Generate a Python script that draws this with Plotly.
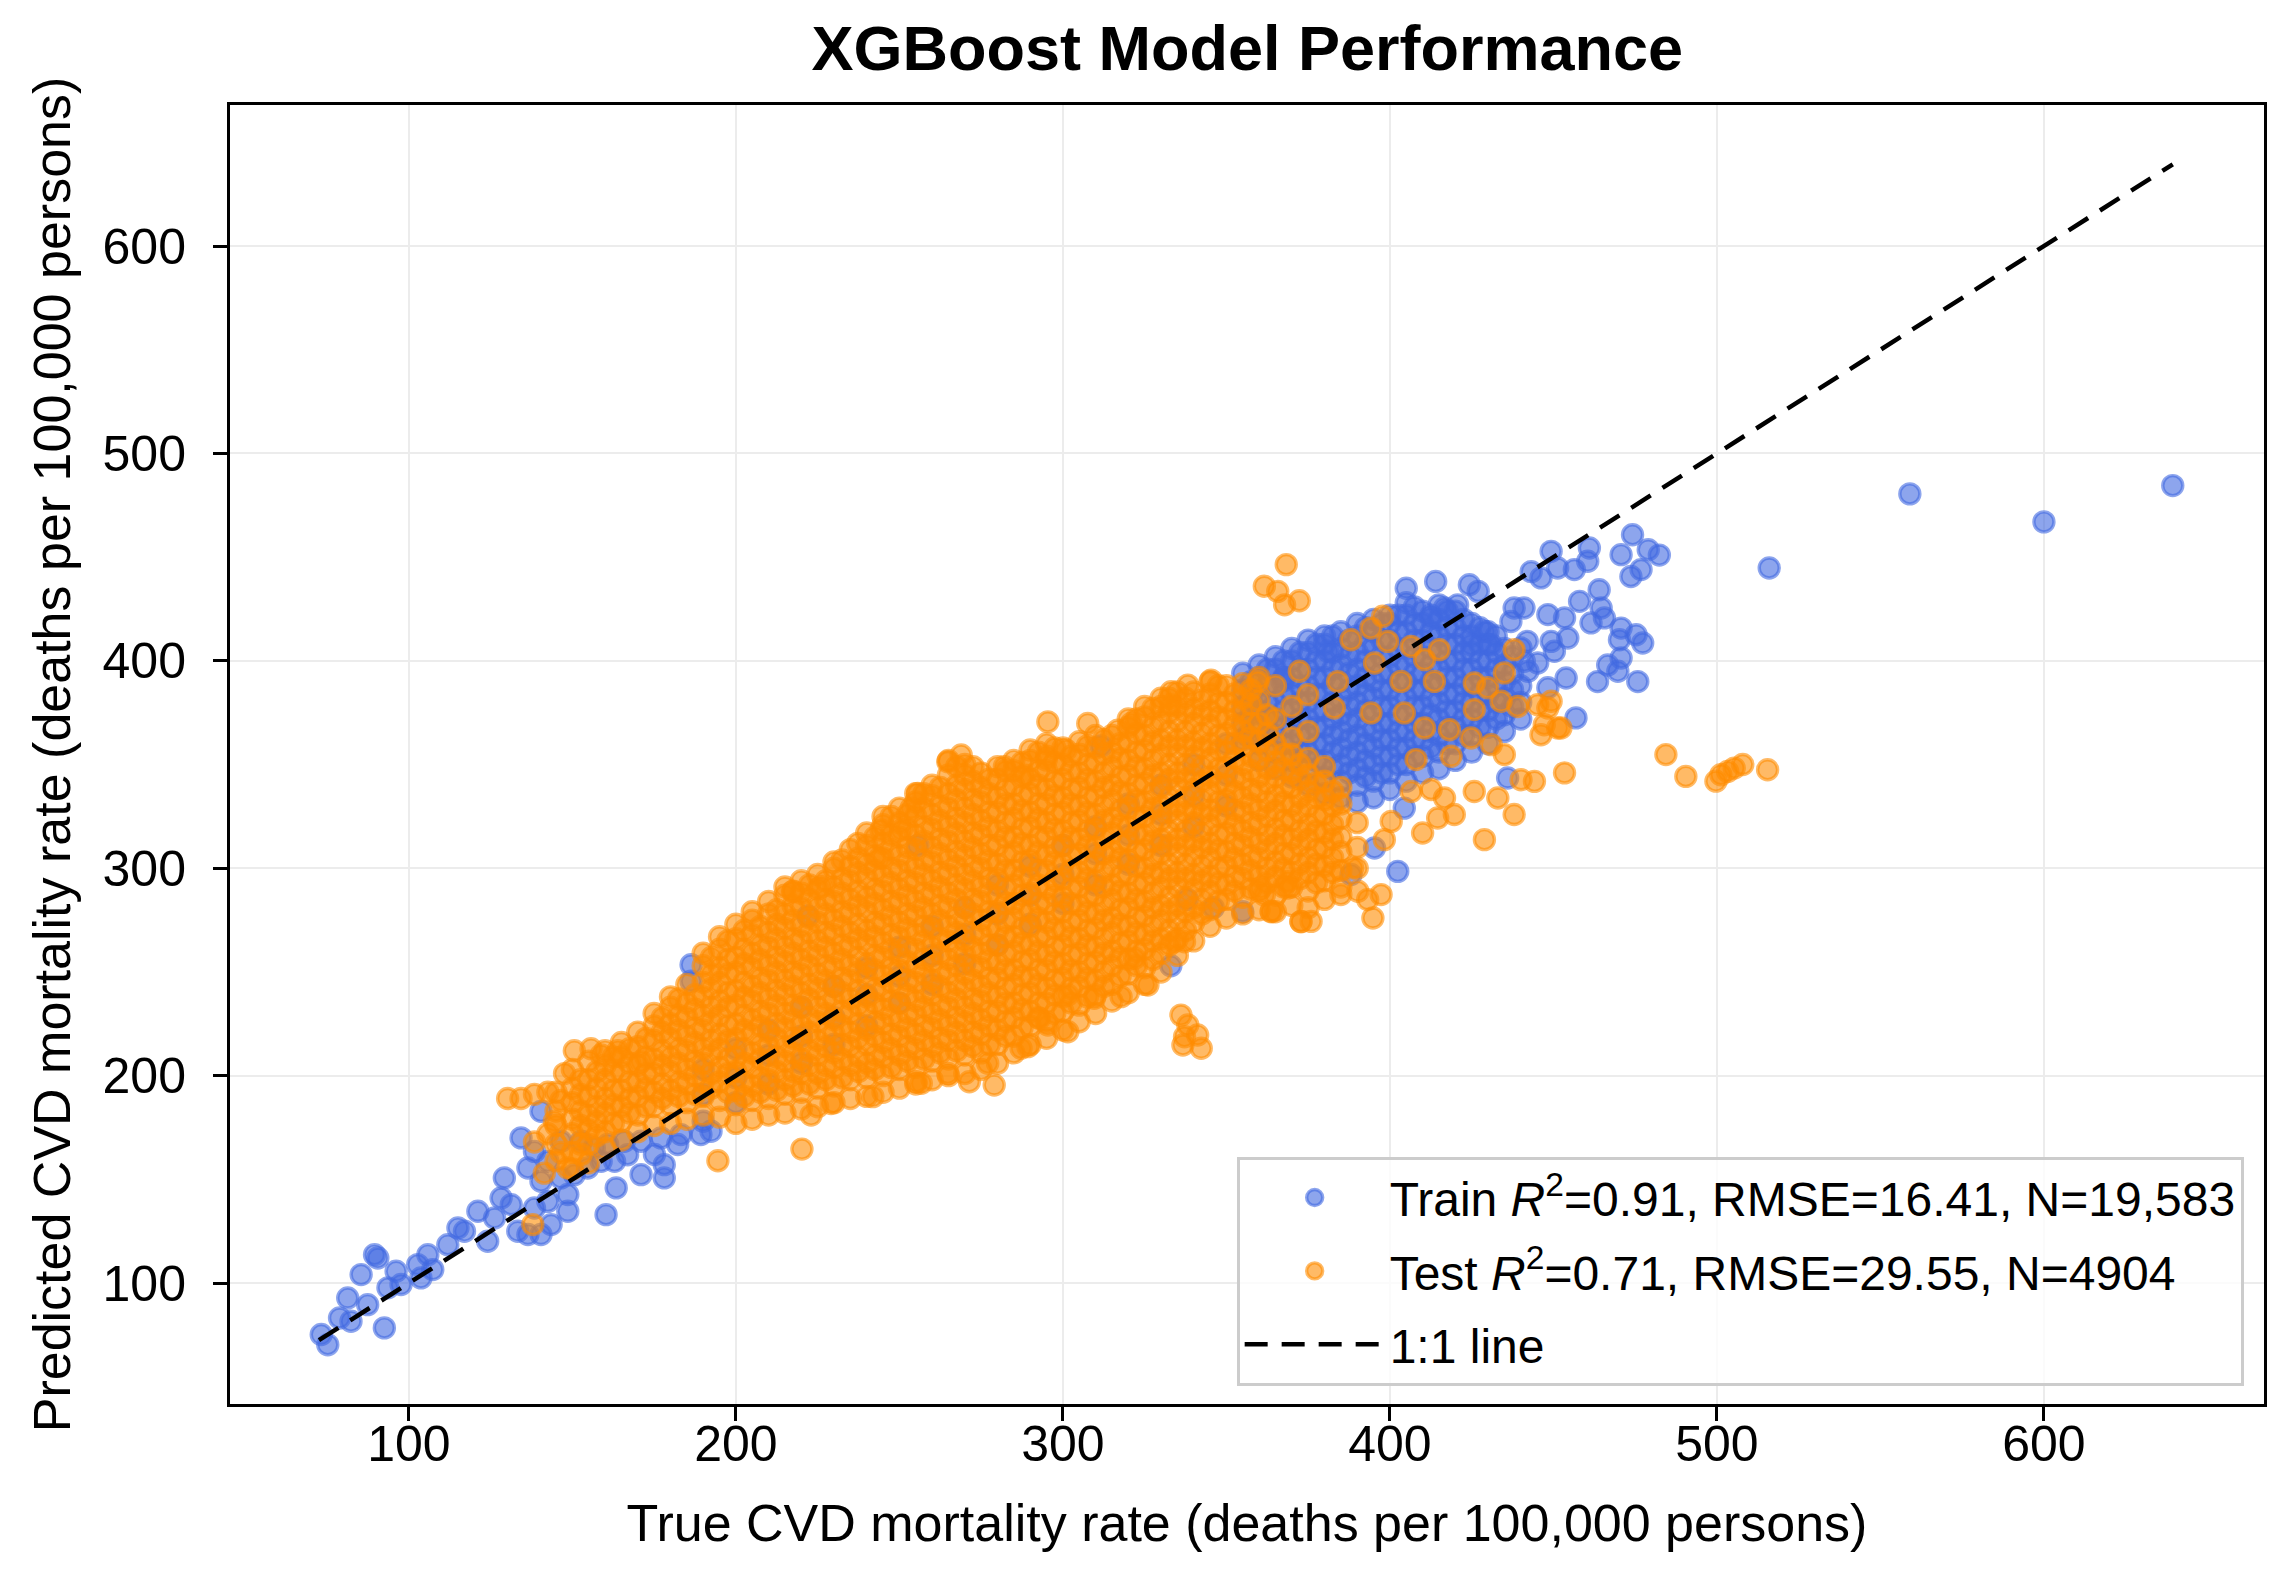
import plotly.graph_objects as go

# ---------------- data ----------------
# Test set: dense cloud read column by column (x value, list of y values)
TEST_COL_X = [145, 150, 155, 160, 165, 170, 175, 180, 185, 190, 195, 200, 205, 210, 215,
              220, 225, 230, 235, 240, 245, 250, 255, 260, 265, 270, 275, 280, 285, 290,
              295, 300, 305, 310, 315, 320, 325, 330, 335, 340, 345, 350, 355, 360, 365,
              370, 375, 380, 385, 390]
TEST_COL_Y = [
    [159, 167, 176, 183, 192],
    [155, 163, 172, 179, 187, 194, 203],
    [158, 167, 174, 181, 190, 198, 207],
    [165, 173, 182, 189, 198, 205, 212],
    [169, 178, 185, 193, 202, 209, 216],
    [173, 181, 190, 197, 205, 214, 221],
    [176, 185, 192, 201, 208, 217, 224, 230],
    [177, 186, 193, 202, 209, 218, 225, 233, 238],
    [179, 187, 196, 203, 212, 219, 228, 235, 244],
    [181, 190, 197, 206, 213, 222, 229, 238, 245, 253, 259],
    [180, 188, 197, 204, 213, 220, 229, 236, 245, 252, 261, 267],
    [177, 186, 193, 202, 209, 218, 225, 234, 241, 250, 257, 266, 273],
    [179, 188, 195, 204, 211, 220, 227, 236, 243, 252, 259, 268, 275, 279],
    [181, 189, 198, 205, 214, 221, 230, 237, 246, 253, 262, 269, 278, 284],
    [182, 191, 198, 207, 214, 223, 230, 239, 246, 255, 262, 271, 278, 287, 291],
    [184, 192, 201, 208, 217, 224, 233, 240, 249, 256, 265, 272, 281, 288, 294],
    [185, 194, 201, 210, 217, 226, 233, 242, 249, 258, 265, 274, 281, 290, 297],
    [187, 195, 204, 211, 220, 227, 236, 243, 252, 259, 268, 275, 284, 291, 300, 303],
    [189, 198, 205, 214, 221, 230, 237, 246, 253, 262, 269, 278, 285, 294, 301, 309],
    [190, 199, 206, 215, 222, 231, 238, 247, 254, 263, 270, 279, 286, 295, 302, 311, 317],
    [192, 200, 209, 216, 225, 232, 241, 248, 257, 264, 273, 280, 289, 296, 305, 312, 321, 325],
    [194, 203, 210, 219, 226, 235, 242, 251, 258, 267, 274, 283, 290, 299, 306, 315, 322, 329],
    [196, 204, 213, 220, 229, 236, 245, 252, 261, 268, 277, 284, 293, 300, 309, 316, 325, 332, 336],
    [198, 207, 214, 223, 230, 239, 246, 255, 262, 271, 278, 287, 294, 303, 310, 319, 326, 335, 340],
    [200, 208, 217, 224, 233, 240, 249, 256, 265, 272, 281, 288, 297, 304, 313, 320, 329, 336, 345, 352],
    [201, 210, 217, 226, 233, 242, 249, 258, 265, 274, 281, 290, 297, 306, 313, 322, 329, 338, 345, 350],
    [203, 211, 220, 227, 236, 243, 252, 259, 268, 275, 284, 291, 300, 307, 316, 323, 332, 339, 346],
    [206, 215, 222, 231, 238, 247, 254, 263, 270, 279, 286, 295, 302, 311, 318, 327, 334, 343, 349],
    [211, 219, 228, 235, 244, 251, 260, 267, 276, 283, 292, 299, 308, 315, 324, 331, 340, 347, 352],
    [215, 224, 231, 240, 247, 256, 263, 272, 279, 288, 295, 304, 311, 320, 327, 336, 343, 352, 357],
    [218, 226, 235, 242, 251, 258, 267, 274, 283, 290, 299, 306, 315, 322, 331, 338, 347, 354, 360],
    [222, 231, 238, 247, 254, 263, 270, 279, 286, 295, 302, 311, 318, 327, 334, 343, 350, 358],
    [226, 234, 243, 250, 259, 266, 275, 282, 291, 298, 307, 314, 323, 330, 339, 346, 355, 361],
    [230, 239, 246, 255, 262, 271, 278, 287, 294, 303, 310, 319, 326, 335, 342, 351, 358, 364],
    [236, 244, 253, 260, 269, 276, 285, 292, 301, 308, 317, 324, 333, 340, 349, 356, 364],
    [240, 249, 256, 265, 272, 281, 288, 297, 304, 313, 320, 329, 336, 345, 352, 361, 368, 372],
    [244, 252, 261, 268, 277, 284, 293, 300, 309, 316, 325, 332, 341, 348, 357, 364, 373, 378],
    [250, 259, 266, 275, 282, 291, 298, 307, 314, 323, 330, 339, 346, 355, 362, 371, 378, 382],
    [258, 266, 275, 282, 291, 298, 307, 314, 323, 330, 339, 346, 355, 362, 371, 378, 385],
    [265, 274, 281, 290, 297, 306, 313, 322, 329, 338, 345, 354, 361, 370, 377, 385],
    [272, 280, 289, 296, 305, 312, 321, 328, 337, 344, 353, 360, 369, 376, 384, 390],
    [276, 285, 292, 301, 308, 317, 324, 333, 340, 349, 356, 365, 372, 380, 388],
    [278, 286, 295, 302, 311, 318, 327, 334, 343, 350, 359, 366, 375, 382, 389],
    [280, 289, 296, 305, 312, 321, 328, 337, 344, 353, 361, 370, 381, 392],
    [279, 287, 296, 303, 312, 319, 328, 335, 344, 351, 360, 372, 388],
    [282, 291, 298, 307, 314, 323, 330, 339, 346, 355, 363, 378],
    [281, 289, 298, 305, 314, 321, 330, 337, 345, 353, 366],
    [285, 294, 301, 310, 317, 326, 333, 342, 349],
    [291, 299, 308, 315, 324, 331, 339],
    [300, 310, 322],
]
# Test set: second pass over the dense core (points between the columns above)
TEST_COL2_X = [152.5, 157.5, 162.5, 167.5, 172.5, 177.5, 182.5, 187.5, 192.5, 197.5, 202.5,
               207.5, 212.5, 217.5, 222.5, 227.5, 232.5, 237.5, 242.5, 247.5, 252.5, 257.5,
               262.5, 267.5, 272.5, 277.5, 282.5, 287.5, 292.5, 297.5, 302.5, 307.5, 312.5,
               317.5, 322.5, 327.5, 332.5, 337.5, 342.5, 347.5, 352.5, 357.5, 362.5, 367.5,
               372.5, 377.5, 382.5]
TEST_COL2_Y = [
    [167, 176, 183, 191, 198],
    [171, 178, 185, 194, 202],
    [177, 186, 193, 202, 209],
    [182, 189, 197, 206, 213],
    [185, 194, 201, 209, 218],
    [189, 196, 205, 212, 221, 228],
    [190, 197, 206, 213, 222, 229, 237],
    [191, 200, 207, 216, 223, 232, 239],
    [194, 201, 210, 217, 226, 233, 242, 249, 257],
    [192, 201, 208, 217, 224, 233, 240, 249, 256, 265],
    [190, 197, 206, 213, 222, 229, 238, 245, 254, 261, 270],
    [192, 199, 208, 215, 224, 231, 240, 247, 256, 263, 272],
    [193, 202, 209, 218, 225, 234, 241, 250, 257, 266, 273, 280],
    [195, 202, 211, 218, 227, 234, 243, 250, 259, 266, 275, 282, 289],
    [196, 205, 212, 221, 228, 237, 244, 253, 260, 269, 276, 285, 292],
    [198, 205, 214, 221, 230, 237, 246, 253, 262, 269, 278, 285, 294],
    [199, 208, 215, 224, 231, 240, 247, 256, 263, 272, 279, 288, 295, 304],
    [202, 209, 218, 225, 234, 241, 250, 257, 266, 273, 282, 289, 298, 305],
    [203, 210, 219, 226, 235, 242, 251, 258, 267, 274, 283, 290, 299, 306, 315],
    [204, 213, 220, 229, 236, 245, 252, 261, 268, 277, 284, 293, 300, 309, 316, 325],
    [207, 214, 223, 230, 239, 246, 255, 262, 271, 278, 287, 294, 303, 310, 319, 326],
    [208, 217, 224, 233, 240, 249, 256, 265, 272, 281, 288, 297, 304, 313, 320, 329, 336],
    [211, 218, 227, 234, 243, 250, 259, 266, 275, 282, 291, 298, 307, 314, 323, 330, 339],
    [212, 221, 228, 237, 244, 253, 260, 269, 276, 285, 292, 301, 308, 317, 324, 333, 340, 349],
    [214, 221, 230, 237, 246, 253, 262, 269, 278, 285, 294, 301, 310, 317, 326, 333, 342, 349],
    [215, 224, 231, 240, 247, 256, 263, 272, 279, 288, 295, 304, 311, 320, 327, 336, 343],
    [219, 226, 235, 242, 251, 258, 267, 274, 283, 290, 299, 306, 315, 322, 331, 338, 347],
    [223, 232, 239, 248, 255, 264, 271, 280, 287, 296, 303, 312, 319, 328, 335, 344, 351],
    [228, 235, 244, 251, 260, 267, 276, 283, 292, 299, 308, 315, 324, 331, 340, 347, 356],
    [230, 239, 246, 255, 262, 271, 278, 287, 294, 303, 310, 319, 326, 335, 342, 351, 358],
    [235, 242, 251, 258, 267, 274, 283, 290, 299, 306, 315, 322, 331, 338, 347, 354],
    [238, 247, 254, 263, 270, 279, 286, 295, 302, 311, 318, 327, 334, 343, 350, 359],
    [243, 250, 259, 266, 275, 282, 291, 298, 307, 314, 323, 330, 339, 346, 355, 362],
    [248, 257, 264, 273, 280, 289, 296, 305, 312, 321, 328, 337, 344, 353, 360],
    [253, 260, 269, 276, 285, 292, 301, 308, 317, 324, 333, 340, 349, 356, 365, 372],
    [256, 265, 272, 281, 288, 297, 304, 313, 320, 329, 336, 345, 352, 361, 368, 377],
    [263, 270, 279, 286, 295, 302, 311, 318, 327, 334, 343, 350, 359, 366, 375, 382],
    [270, 279, 286, 295, 302, 311, 318, 327, 334, 343, 350, 359, 366, 375, 382],
    [278, 285, 294, 301, 310, 317, 326, 333, 342, 349, 358, 365, 374, 381],
    [284, 293, 300, 309, 316, 325, 332, 341, 348, 357, 364, 373, 380, 388],
    [289, 296, 305, 312, 321, 328, 337, 344, 353, 360, 369, 376, 384],
    [290, 299, 306, 315, 322, 331, 338, 347, 354, 363, 370, 379, 386],
    [293, 300, 309, 316, 325, 332, 341, 348, 357, 365, 374],
    [291, 300, 307, 316, 323, 332, 339, 348, 355],
    [295, 302, 311, 318, 327, 334, 343, 350],
    [293, 302, 309, 318, 325, 334, 341],
    [298, 305, 314, 321, 330, 337],
]
# Test set: scattered points around the dense cloud
TEST_X = [130.2, 134.3, 138.4, 142.5, 146.5, 147.6, 150.6, 155.7, 158.8, 163.9, 138.4, 142.5,
          146.5, 141.4, 148.6, 152.7, 144.5, 137.9, 194.5, 220.2, 171.0, 223.0, 229.1, 241.9,
          255.1, 256.7, 264.8, 271.4, 279.0, 277.0, 287.2, 289.3, 301.5, 295.4, 292.8, 301.5,
          309.6, 317.8, 326.0, 336.1, 338.2, 341.2, 337.2, 342.3, 336.7, 321.9, 334.1, 337.2,
          363.7, 372.8, 368.7, 361.6,
          264.8, 268.9, 255.6, 253.6, 237.3, 244.4, 250.6, 243.9, 226.1, 217.4, 282.1, 288.3,
          295.4, 307.6, 294.9, 301.0, 316.8, 320.9, 333.1, 338.2, 345.3, 359.6, 333.1,
          368.3, 361.6, 365.7, 367.8, 372.3,
          397.8, 394.2, 388.1, 399.3, 406.5, 415.1, 410.6, 395.3, 372.3, 403.4, 413.6, 384.0,
          374.9, 383.0, 394.2, 404.4, 410.6, 418.2, 425.8, 425.8, 429.9, 435.0, 438.0, 434.0,
          439.1, 445.2, 449.3, 446.2, 451.3, 408.0, 418.7, 424.8, 431.0, 435.0, 440.1, 444.2,
          453.4, 433.0, 438.0, 425.8, 419.7, 414.6, 410.0, 428.9, 416.7, 412.6, 406.5, 400.4,
          398.3, 388.6, 397.3, 393.2, 394.8, 390.2, 385.0, 375.9, 372.8, 368.8, 363.7, 360.6,
          447.2, 448.3, 452.3,
          484.4, 490.5, 499.7, 501.2, 503.3, 505.3, 507.9, 515.5]
TEST_Y = [189.0, 189.0, 191.0, 192.0, 188.0, 201.0, 212.0, 213.0, 210.0, 212.0, 168.0, 172.0,
          163.0, 153.0, 155.5, 162.0, 178.0, 128.2, 159.0, 164.6, 206.9, 181.0, 186.6, 189.9,
          197.1, 196.3, 201.1, 197.1, 195.5, 206.0, 213.2, 214.0, 221.2, 224.4, 227.6, 238.9,
          237.3, 238.1, 243.7, 229.2, 224.4, 219.6, 218.8, 213.2, 214.8, 256.6, 264.6, 264.6,
          279.0, 274.2, 293.5, 287.1,
          351.4, 354.6, 336.1, 328.9, 312.0, 318.4, 318.4, 304.8, 291.1, 288.7, 349.0, 344.9,
          370.6, 369.8, 352.2, 357.0, 366.6, 369.8, 385.1, 388.3, 390.7, 389.9, 378.7,
          446.4, 436.0, 433.5, 427.0, 429.0,
          421.5, 415.8, 410.2, 409.4, 407.0, 405.4, 400.6, 399.0, 395.0, 390.1, 390.1, 390.0,
          383.7, 377.3, 374.9, 374.9, 367.6, 366.8, 376.5, 389.3, 387.0, 394.2, 405.4, 380.5,
          378.0, 378.9, 380.5, 364.4, 367.6, 352.4, 354.0, 362.8, 359.6, 354.8, 342.7, 341.9,
          346.0, 333.9, 325.9, 337.0, 325.9, 324.2, 317.0, 313.8, 333.9, 338.0, 337.0, 322.6,
          313.8, 300.1, 287.3, 284.9, 276.0, 288.9, 287.3, 274.4, 274.4, 290.5, 279.3, 290.5,
          369.2, 377.3, 367.6,
          354.8, 344.3, 342.0, 345.1, 346.7, 348.3, 350.0, 347.5]

# Train set: dense region at the upper right, column by column
TRAIN_COL_X = [355, 360, 365, 370, 375, 380, 385, 390, 395, 400, 405, 410, 415, 420, 425,
               430, 435, 440]
TRAIN_COL_Y = [
    [362, 370, 378, 386, 394],
    [352, 360, 368, 376, 384, 392, 398],
    [348, 356, 364, 372, 380, 388, 396, 402],
    [344, 352, 360, 368, 376, 384, 392, 400, 406],
    [340, 348, 356, 364, 372, 380, 388, 396, 404, 410],
    [336, 344, 352, 360, 368, 376, 384, 392, 400, 408, 412],
    [334, 342, 350, 358, 366, 374, 382, 390, 398, 406, 414],
    [332, 340, 348, 356, 364, 372, 380, 388, 396, 404, 412, 418],
    [334, 342, 350, 358, 366, 374, 382, 390, 398, 406, 414, 420],
    [338, 346, 354, 362, 370, 378, 386, 394, 402, 410, 418, 422],
    [342, 350, 358, 366, 374, 382, 390, 398, 406, 414, 422, 428],
    [346, 354, 362, 370, 378, 386, 394, 402, 410, 418, 424],
    [348, 356, 364, 372, 380, 388, 396, 404, 412, 420, 427],
    [352, 360, 368, 376, 384, 392, 400, 408, 416, 424],
    [356, 364, 372, 380, 388, 396, 404, 412, 418],
    [360, 368, 376, 384, 392, 400, 408, 414],
    [366, 374, 382, 390, 398, 406],
    [372, 380, 388],
]
TRAIN_COL2_X = [357.5, 362.5, 367.5, 372.5, 377.5, 382.5, 387.5, 392.5, 397.5, 402.5, 407.5,
                412.5, 417.5, 422.5, 427.5, 432.5, 437.5]
TRAIN_COL2_Y = [
    [374, 382, 390],
    [364, 372, 380, 388, 396],
    [360, 368, 376, 384, 392, 400],
    [356, 364, 372, 380, 388, 396, 404],
    [352, 360, 368, 376, 384, 392, 400, 408],
    [348, 356, 364, 372, 380, 388, 396, 404, 412],
    [346, 354, 362, 370, 378, 386, 394, 402, 410],
    [344, 352, 360, 368, 376, 384, 392, 400, 408, 416],
    [346, 354, 362, 370, 378, 386, 394, 402, 410, 418],
    [350, 358, 366, 374, 382, 390, 398, 406, 414, 422],
    [354, 362, 370, 378, 386, 394, 402, 410, 418, 426],
    [358, 366, 374, 382, 390, 398, 406, 414, 422],
    [360, 368, 376, 384, 392, 400, 408, 416, 424],
    [364, 372, 380, 388, 396, 404, 412, 420],
    [368, 376, 384, 392, 400, 408, 416],
    [372, 380, 388, 396, 404, 412],
    [378, 386, 394, 402],
]
# Train set: band along the 1:1 line (mostly hidden under the test points)
TRAIN_BAND_X = [190, 190, 190, 200, 200, 200, 210, 210, 210, 220, 220, 220, 230, 230, 230,
                240, 240, 240, 250, 250, 250, 260, 260, 260, 270, 270, 270, 280, 280, 280,
                290, 290, 290, 300, 300, 300, 310, 310, 310, 320, 320, 320, 330, 330, 330,
                340, 340, 340, 350, 350, 350]
TRAIN_BAND_Y = [178, 191, 203, 187, 199, 213, 196, 210, 222, 206, 219, 233, 215, 228, 243,
                224, 239, 252, 235, 248, 262, 244, 258, 272, 254, 268, 281, 263, 278, 292,
                273, 287, 301, 283, 297, 311, 292, 307, 320, 302, 316, 331, 311, 326, 340,
                320, 335, 350, 330, 345, 360]
# Train set: individual points (tail, edges, right-hand spread and outliers)
TRAIN_X = [73.2, 75.2, 78.8, 82.3, 81.3, 85.4, 89.5, 90.5, 87.4, 92.5, 93.6, 96.1, 97.6,
           102.7, 105.8, 103.7, 107.3, 111.9, 115.0, 117.0, 121.1, 124.1, 126.2, 128.2, 129.2,
           131.3, 133.3, 136.4, 140.4, 143.5, 138.4, 142.5, 148.6, 148.6, 140.4, 136.4, 138.4,
           134.3, 140.4, 142.5, 146.5, 150.6, 154.7, 158.8, 160.3, 163.4, 162.9, 166.9, 171.0,
           178.1, 178.1, 175.1, 182.2, 189.3, 192.4, 186.3, 186.3, 165.9, 160.8, 146.5, 152.7,
           156.7, 171.0, 177.1, 183.2,
           311.7, 255.7, 222.0, 338.0, 346.0, 333.0, 355.0, 356.5, 367.0,
           405.0, 414.0, 424.3, 427.0, 449.3, 461.0, 474.2, 470.7, 482.4, 479.0, 476.8, 473.7,
           460.5, 456.4, 451.3, 446.2, 443.2, 438.0, 441.0, 437.0, 448.3, 453.4, 449.3, 454.4,
           450.3, 464.0, 458.0, 464.6, 461.5, 465.6, 470.7, 475.3, 477.3, 470.2, 470.7, 466.6,
           469.7, 463.5, 475.8, 445.2, 453.9, 448.3, 442.0, 456.9, 442.2,
           412.6, 420.7, 416.7, 428.9, 424.8, 431.0, 381.0, 367.8, 440.1, 441.1,
           402.4, 395.3, 388.1, 436.0, 404.4,
           516.0, 559.0, 600.0, 639.4]
TRAIN_Y = [75.2, 70.3, 83.2, 81.6, 92.8, 104.1, 113.7, 112.1, 89.6, 78.4, 97.7, 105.7, 99.3,
           108.9, 113.7, 102.5, 106.5, 118.5, 126.6, 125.0, 134.6, 120.2, 131.4, 141.0, 150.7,
           137.8, 125.0, 123.4, 123.4, 128.2, 136.2, 139.4, 134.6, 142.7, 149.1, 155.5, 163.5,
           170.0, 182.8, 158.7, 150.7, 152.3, 155.5, 158.7, 133.0, 145.9, 158.7, 161.9, 152.3,
           150.7, 157.1, 162.0, 166.8, 171.6, 173.2, 253.5, 245.5, 168.4, 166.8, 168.4, 168.4,
           165.2, 168.4, 170.0, 171.6,
           359.0, 311.0, 277.0, 285.0, 281.0, 253.0, 279.0, 364.0, 390.0,
           435.0, 438.3, 436.7, 433.5, 452.8, 454.4, 460.8, 451.2, 451.0, 453.6, 444.0, 440.7,
           448.0, 444.0, 444.8, 440.0, 443.0, 425.5, 425.5, 419.0, 422.3, 420.7, 409.4, 411.0,
           404.6, 434.3, 428.7, 425.5, 418.3, 420.7, 415.8, 412.6, 408.6, 410.2, 401.4, 398.0,
           395.0, 390.0, 390.0, 399.0, 391.7, 387.0, 409.4, 372.5, 395.0,
           420.7, 427.0, 425.5, 414.2, 407.8, 407.8, 404.6, 391.7, 406.2, 399.8,
           298.5, 309.8, 297.0, 343.5, 329.0,
           444.8, 480.5, 467.0, 484.5]

LINE_ENDS = [72.5, 639.4]

TRAIN_LABEL = "Train <i>R</i><sup>2</sup>=0.91, RMSE=16.41, N=19,583"
TEST_LABEL = "Test <i>R</i><sup>2</sup>=0.71, RMSE=29.55, N=4904"
LINE_LABEL = "1:1 line"
TITLE = "XGBoost Model Performance"
X_TITLE = "True CVD mortality rate (deaths per 100,000 persons)"
Y_TITLE = "Predicted CVD mortality rate (deaths per 100,000 persons)"
TICKS = [100, 200, 300, 400, 500, 600]

# ---------------- assemble ----------------
def flatten(col_x, col_y):
    xs, ys = [], []
    for cx, cys in zip(col_x, col_y):
        xs += [cx] * len(cys)
        ys += cys
    return xs, ys

train_x, train_y = [], []
for cx, cy in ((TRAIN_COL_X, TRAIN_COL_Y), (TRAIN_COL2_X, TRAIN_COL2_Y)):
    a, b = flatten(cx, cy)
    train_x += a
    train_y += b
train_x += TRAIN_BAND_X + TRAIN_X
train_y += TRAIN_BAND_Y + TRAIN_Y

test_x, test_y = [], []
for cx, cy in ((TEST_COL_X, TEST_COL_Y), (TEST_COL2_X, TEST_COL2_Y)):
    a, b = flatten(cx, cy)
    test_x += a
    test_y += b
test_x += TEST_X
test_y += TEST_Y

FONT = "Liberation Sans, Arial, Helvetica, sans-serif"
BLUE = "rgba(65,105,225,0.6)"
ORANGE = "rgba(255,140,0,0.6)"

fig = go.Figure()
fig.add_trace(go.Scatter(
    x=train_x, y=train_y, mode="markers", name=TRAIN_LABEL, legendgroup="train",
    marker=dict(size=20, color=BLUE, line=dict(color=BLUE, width=3.4)),
))
fig.add_trace(go.Scatter(
    x=test_x, y=test_y, mode="markers", name=TEST_LABEL, legendgroup="test",
    marker=dict(size=20, color=ORANGE, line=dict(color=ORANGE, width=3.4)),
))
fig.add_trace(go.Scatter(
    x=LINE_ENDS, y=LINE_ENDS, mode="lines", name=LINE_LABEL, legendgroup="line",
    line=dict(color="black", width=4.5, dash="23px,14px"),
))

axis_common = dict(
    showline=True, linecolor="black", linewidth=3, mirror=True,
    ticks="outside", ticklen=14, tickwidth=3, tickcolor="black",
    tickvals=TICKS, tickfont=dict(family=FONT, size=50, color="black"),
    showgrid=True, gridcolor="#ececec", gridwidth=2, zeroline=False,
)

fig.update_layout(
    width=2284, height=1575,
    margin=dict(l=222, r=28, t=97, b=179),
    paper_bgcolor="white", plot_bgcolor="white",
    title=dict(text="<b>" + TITLE + "</b>", x=0.5426, xanchor="center",
               y=1 - 40 / 1575, yanchor="middle",
               font=dict(family=FONT, size=63, color="black")),
    xaxis=dict(range=[45.3, 667.3],
               title=dict(text=X_TITLE, font=dict(family=FONT, size=52, color="black"), standoff=34),
               ticklabelstandoff=-20, **axis_common),
    yaxis=dict(range=[41.7, 668],
               title=dict(text=Y_TITLE, font=dict(family=FONT, size=52, color="black"), standoff=16),
               ticklabelstandoff=17, **axis_common),
    legend=dict(x=0.99, y=0.014, xanchor="right", yanchor="bottom",
                bgcolor="rgba(255,255,255,0.8)", bordercolor="#cccccc", borderwidth=3,
                font=dict(family=FONT, size=48, color="black"),
                itemwidth=140, itemsizing="trace", tracegroupgap=8),
    showlegend=True,
)

fig.write_html("out.html")
